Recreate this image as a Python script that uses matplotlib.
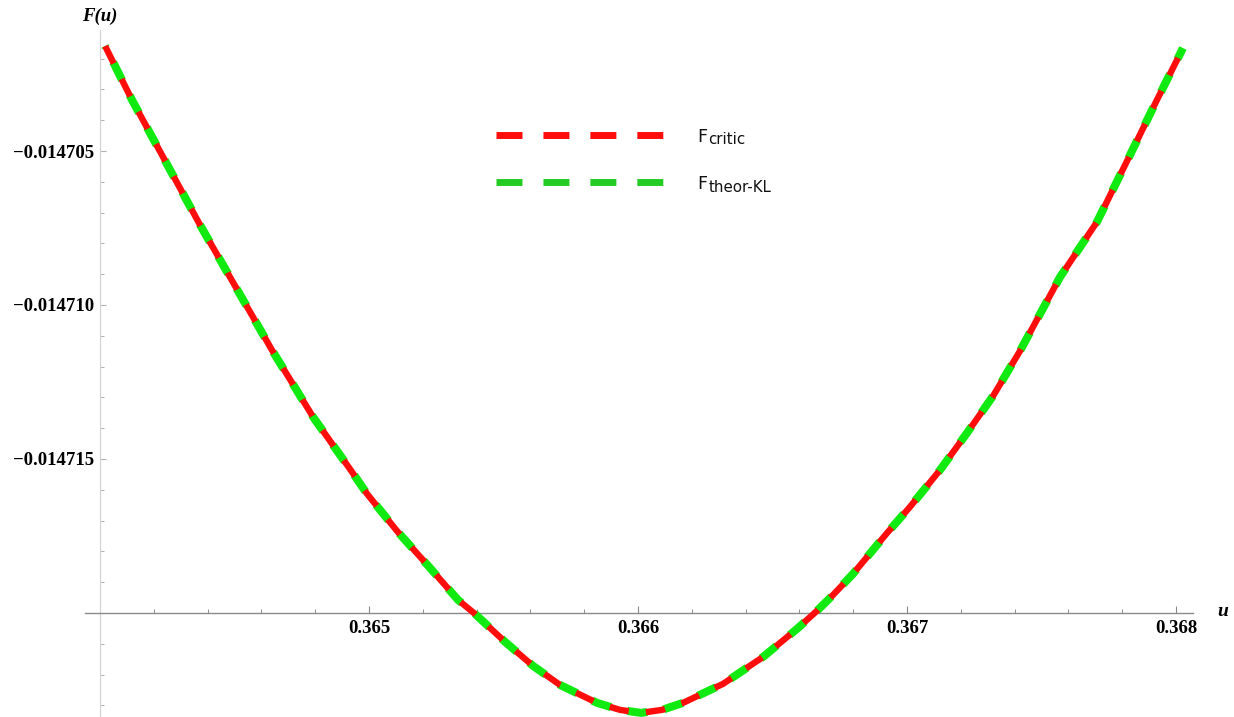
import matplotlib
matplotlib.use("Agg")
import matplotlib.pyplot as plt
from matplotlib.lines import Line2D
from matplotlib.ticker import FixedLocator, FixedFormatter, MultipleLocator

# ---------------- data ----------------
u_values = [0.364019, 0.364119, 0.364372, 0.364639, 0.364792, 0.364929, 0.364993,
            0.365104, 0.365227, 0.365331, 0.365394, 0.365506, 0.365610, 0.365710,
            0.365848, 0.365933, 0.366011, 0.366089, 0.366167, 0.366316, 0.366465,
            0.366591, 0.366665, 0.366725, 0.366799, 0.366926, 0.367011, 0.367123,
            0.367223, 0.367320, 0.367420, 0.367569, 0.367706, 0.367829, 0.367929,
            0.368026]

F_critic = [-0.014701591, -0.014703344, -0.014707403, -0.014711461, -0.014713636,
            -0.014715325, -0.014716136, -0.014717338, -0.014718539, -0.014719578,
            -0.014720032, -0.014720942, -0.014721721, -0.014722338, -0.014722922,
            -0.014723149, -0.014723247, -0.014723149, -0.014722922, -0.014722305,
            -0.014721429, -0.014720519, -0.014719935, -0.014719416, -0.014718734,
            -0.014717403, -0.014716558, -0.014715357, -0.014714156, -0.014712955,
            -0.014711494, -0.014709091, -0.014707305, -0.014705130, -0.014703344,
            -0.014701656]

F_theor_KL = [-0.014701591, -0.014703344, -0.014707403, -0.014711461, -0.014713636,
              -0.014715325, -0.014716136, -0.014717338, -0.014718539, -0.014719578,
              -0.014720032, -0.014720942, -0.014721721, -0.014722338, -0.014722922,
              -0.014723149, -0.014723247, -0.014723149, -0.014722922, -0.014722305,
              -0.014721429, -0.014720519, -0.014719935, -0.014719416, -0.014718734,
              -0.014717403, -0.014716558, -0.014715357, -0.014714156, -0.014712955,
              -0.014711494, -0.014709091, -0.014707305, -0.014705130, -0.014703344,
              -0.014701656]

x_ticks = [0.365, 0.366, 0.367, 0.368]
x_ticklabels = ["0.365", "0.366", "0.367", "0.368"]
y_ticks = [-0.014705, -0.014710, -0.014715]
y_ticklabels = ["\u22120.014705", "\u22120.014710", "\u22120.014715"]

series_main = ["F", "F"]
series_sub = ["critic", "theor-KL"]

# ---------------- figure ----------------
plt.rcParams["lines.scale_dashes"] = False
W, H = 1234, 717
fig = plt.figure(figsize=(W / 100, H / 100), dpi=100)
ax = fig.add_axes([85 / W, 0, (1193 - 85) / W, (717 - 30) / H])
ax.set_xlim(0.3639442, 0.3680632)
ax.set_ylim(-0.01472338, -0.01470107)
ax.patch.set_alpha(0)

red = "#ff0d0d"
green = "#10ea10"

ax.plot(u_values, F_theor_KL, color=green, lw=5.8, linestyle=(13.5, (14.5, 12.0)),
        dash_capstyle="butt", solid_joinstyle="round", clip_on=False, zorder=3)
ax.plot(u_values, F_critic, color=red, lw=4.6, linestyle=(0, (14.0, 12.5)),
        dash_capstyle="butt", solid_joinstyle="round", clip_on=False, zorder=4)

# axes styling (Mathematica-like crossing axes)
for s in ("top", "right"):
    ax.spines[s].set_visible(False)
ax.spines["left"].set_position(("data", 0.364))
ax.spines["bottom"].set_position(("data", -0.014720))
ax.spines["left"].set_color("#d4d4d4")
ax.spines["bottom"].set_color("#8a8a8a")
ax.spines["left"].set_linewidth(0.9)
ax.spines["bottom"].set_linewidth(1.0)

ax.xaxis.set_major_locator(FixedLocator(x_ticks))
ax.xaxis.set_major_formatter(FixedFormatter(x_ticklabels))
ax.xaxis.set_minor_locator(MultipleLocator(0.0002))
ax.yaxis.set_major_locator(FixedLocator(y_ticks))
ax.yaxis.set_major_formatter(FixedFormatter(y_ticklabels))
ax.yaxis.set_minor_locator(MultipleLocator(0.000001))

ax.tick_params(axis="x", which="major", direction="in", length=5, width=0.8,
               color="#8a8a8a", pad=5)
ax.tick_params(axis="x", which="minor", direction="in", length=2.6, width=0.7,
               color="#8a8a8a")
ax.tick_params(axis="y", which="major", direction="in", length=4.3, width=0.8,
               color="#b0b0b0", pad=4)
ax.tick_params(axis="y", which="minor", direction="in", length=2.9, width=0.7,
               color="#b0b0b0")
for lab in ax.get_xticklabels() + ax.get_yticklabels():
    lab.set_fontfamily("Liberation Serif")
    lab.set_fontweight("bold")
    lab.set_fontsize(13.5)

# axis labels
fig.text(100 / W, 1 - 16 / H, "F(u)", ha="center", va="center",
         family="Liberation Serif", weight="bold", style="italic", size=13.5)
fig.text(1223 / W, 1 - 611 / H, "u", ha="center", va="center",
         family="Liberation Serif", weight="bold", style="italic", size=14)

# legend (drawn entry by entry to match the reference layout)
legend_colors = [red, "#22cc22"]
for i, (main, sub, col) in enumerate(zip(series_main, series_sub, legend_colors)):
    yc = 135 + 47 * i
    fig.add_artist(Line2D([496 / W, 664 / W], [1 - yc / H, 1 - yc / H],
                          transform=fig.transFigure, color=col, lw=5,
                          linestyle=(0, (18.7, 15.1)), dash_capstyle="butt"))
    base = yc + 7
    fig.text(697 / W, 1 - base / H, main, ha="left", va="baseline",
             family="DejaVu Sans", size=12.6, color="#111111")
    fig.text(708.5 / W, 1 - (base + 2.5) / H, sub, ha="left", va="baseline",
             family="DejaVu Sans", size=10.8, color="#111111")

fig.savefig("out.png", dpi=100, facecolor="white")
